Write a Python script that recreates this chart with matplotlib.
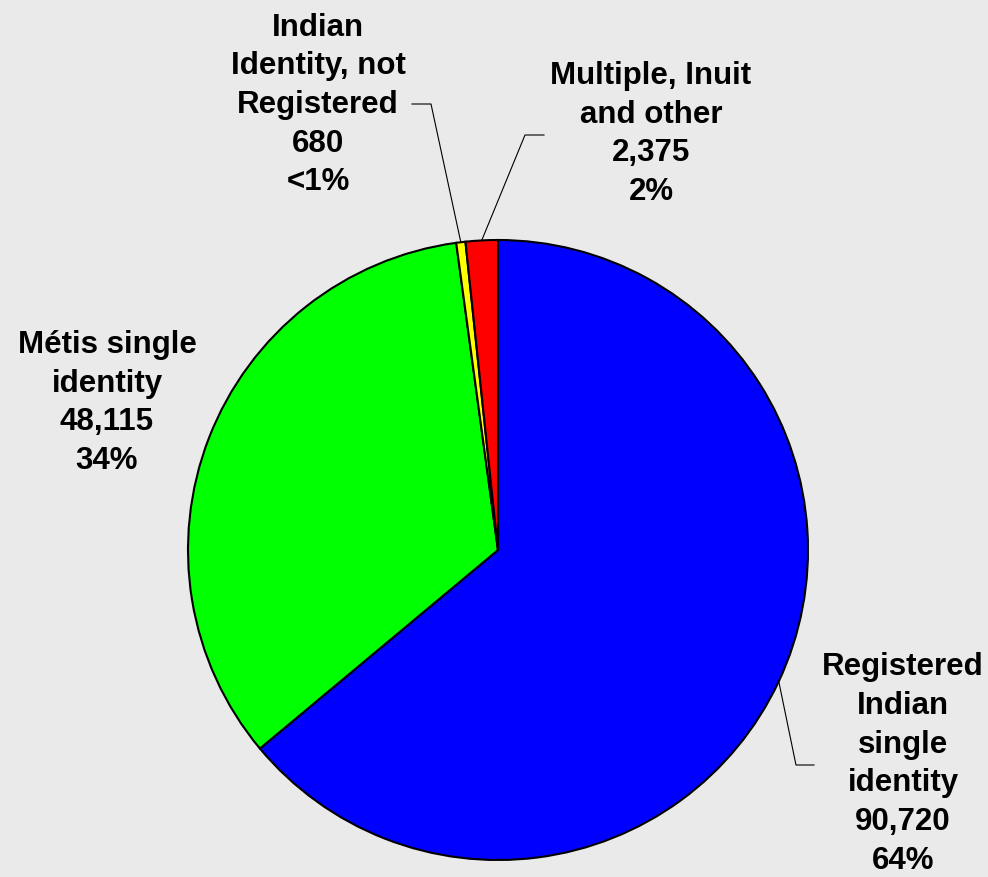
import numpy as np
import matplotlib
matplotlib.use("Agg")
import matplotlib.pyplot as plt

# data
names = ["Registered\nIndian\nsingle\nidentity", "Métis single\nidentity",
         "Indian\nIdentity, not\nRegistered", "Multiple, Inuit\nand other"]
counts = [90720, 48115, 680, 2375]
colors = ["#0000FF", "#00FF00", "#FFFF00", "#FF0000"]

# layout (pixels in the 988x877 picture): text centre, elbow, end of elbow
W, H = 988, 877
cx, cy, R = 498, 550, 310
text_pos = [(903, 764), (107, 403), (318, 105), (651, 134)]
elbows = [((796, 765), (814, 765)), None, ((431, 104), (412, 104)), ((525, 135), (544, 135))]


def px(p):
    return ((p[0] - cx) / R, (cy - p[1]) / R)


plt.rcParams['font.family'] = ['Liberation Sans', 'DejaVu Sans']
fig = plt.figure(figsize=(W / 100, H / 100), dpi=100)
fig.patch.set_facecolor("#EAEAEA")
ax = fig.add_axes([0, 0, 1, 1])
ax.set_facecolor("#EAEAEA")

wedges, _ = ax.pie(counts, colors=colors, startangle=90, counterclock=False, radius=1,
                   wedgeprops=dict(edgecolor="black", linewidth=1.5))

# pie() resets the limits, so set them afterwards
ax.set_xlim(-cx / R, (W - cx) / R)
ax.set_ylim(-(H - cy) / R, cy / R)
ax.set_aspect("equal")
ax.axis("off")

total = sum(counts)
for i, w in enumerate(wedges):
    share = counts[i] / total * 100
    pct = "<1%" if share < 1 else "%d%%" % round(share)
    txt = "%s\n%s\n%s" % (names[i], format(counts[i], ","), pct)
    ax.text(*px(text_pos[i]), txt, ha="center", va="center", fontsize=22.5,
            fontweight="bold", linespacing=1.38, color="black")
    if elbows[i] is not None:
        ang = np.deg2rad((w.theta1 + w.theta2) / 2)
        start = (np.cos(ang), np.sin(ang))
        e1 = px(elbows[i][0])
        e2 = px(elbows[i][1])
        ax.plot([start[0], e1[0], e2[0]], [start[1], e1[1], e2[1]], color="black", lw=0.8)

fig.savefig("out.png", dpi=100, facecolor=fig.get_facecolor())
